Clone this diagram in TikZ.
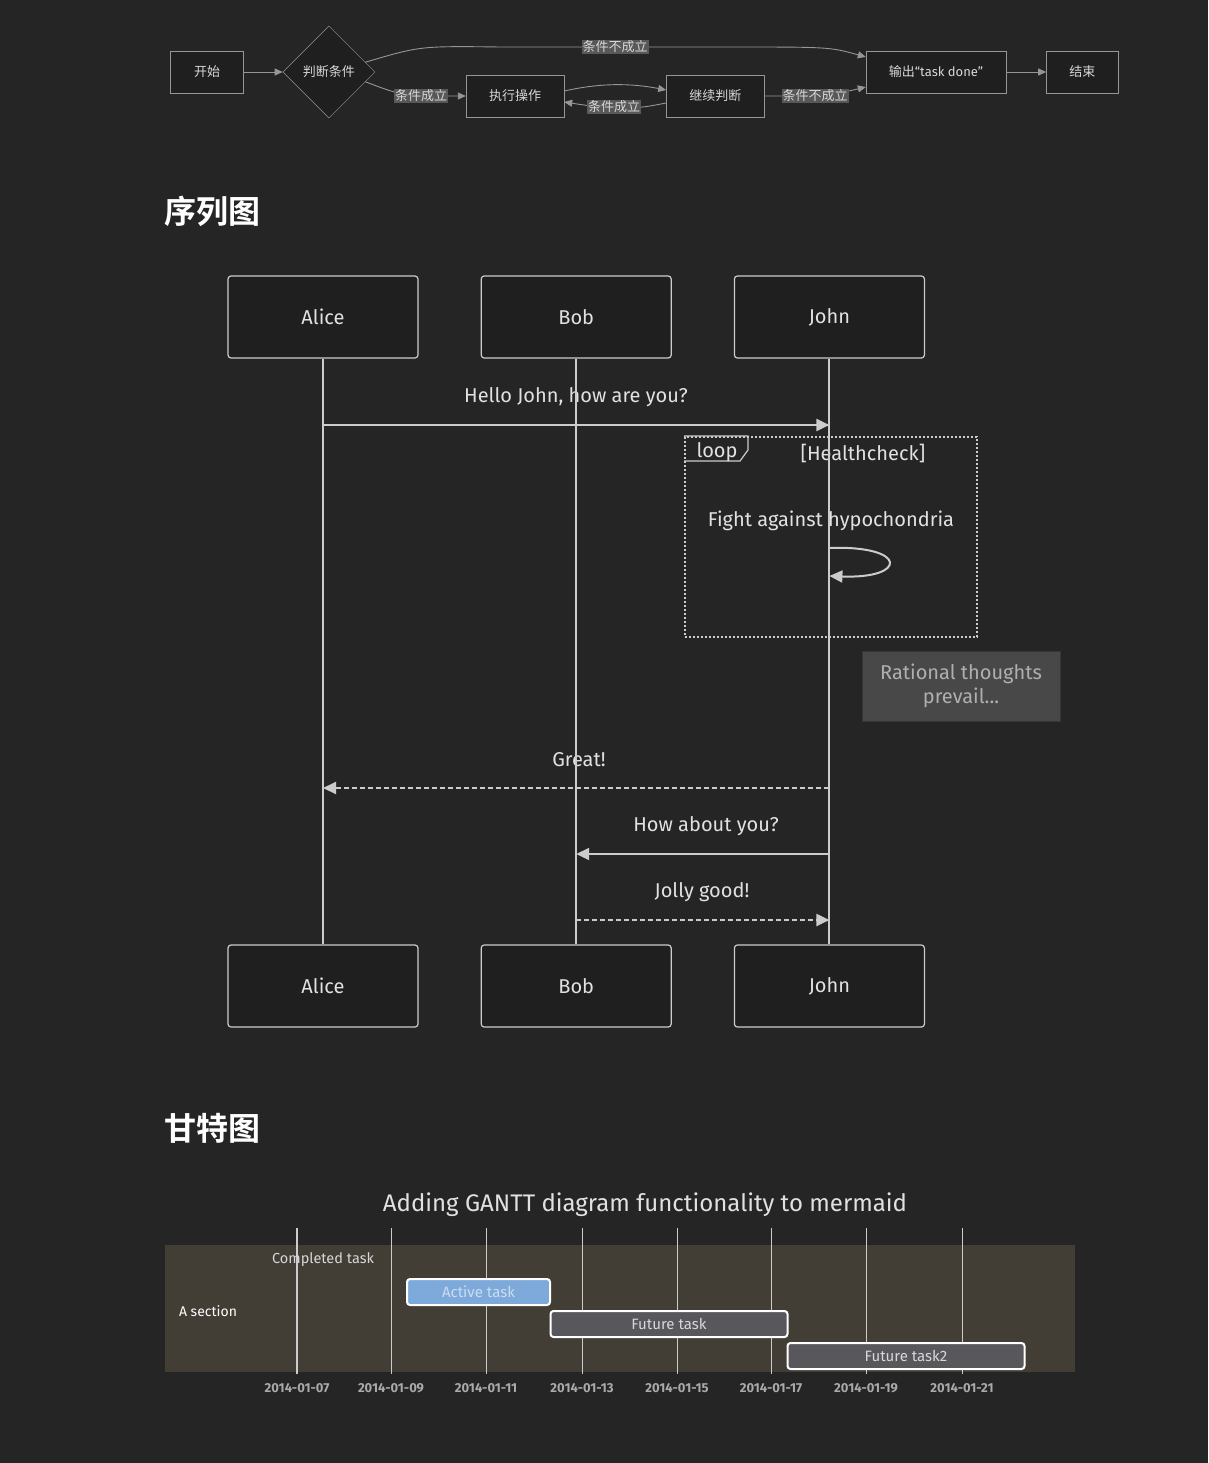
\documentclass[tikz,border=0pt]{standalone}
\usepackage{fontspec}
\setmainfont{Fira Sans}
\newfontfamily\cjk[BoldFont={Noto Sans CJK SC Bold}]{Noto Sans CJK SC}
\usepackage{xcolor}
\usepackage{tikz}
\usetikzlibrary{positioning,arrows.meta,shapes.geometric}
\definecolor{bgdark}{RGB}{37,37,37}
\definecolor{boxfill}{RGB}{31,31,31}
\definecolor{flowline}{RGB}{150,150,150}
\definecolor{flowtext}{RGB}{215,215,215}
\definecolor{labelbg}{RGB}{88,88,88}
\definecolor{seqline}{RGB}{204,204,204}
\definecolor{seqtext}{RGB}{225,225,225}
\definecolor{notefill}{RGB}{72,72,72}
\definecolor{notetext}{RGB}{175,175,175}
\definecolor{bandfill}{RGB}{66,62,54}
\definecolor{activefill}{RGB}{125,170,218}
\definecolor{activetext}{RGB}{205,220,238}
\definecolor{futurefill}{RGB}{88,88,92}
\definecolor{ticktext}{RGB}{170,170,170}
\tikzset{
  flownode/.style  = {shape=rectangle, draw=flowline, fill=boxfill,
                      text=flowtext, minimum height=42pt,
                      font=\cjk\fontsize{13}{15}\selectfont},
  flowcond/.style  = {flownode, shape=diamond, inner sep=0pt,
                      minimum width=92pt, minimum height=92pt},
  flowedge/.style  = {draw=flowline, line width=0.9pt,
                      -{Triangle[length=8pt,width=7pt]}},
  elabel/.style    = {fill=labelbg, text=flowtext, inner sep=1pt,
                      font=\cjk\fontsize{13}{15}\selectfont},
  heading/.style   = {anchor=west, text=white,
                      font=\cjk\bfseries\fontsize{32}{36}\selectfont},
  actor/.style     = {shape=rectangle, rounded corners=3pt, draw=seqline,
                      fill=boxfill, line width=1.2pt, text=seqtext,
                      minimum width=190pt, minimum height=82pt,
                      font=\fontsize{20}{24}\selectfont},
  lifeline/.style  = {draw=seqline, line width=2pt},
  msgtext/.style   = {text=seqtext, font=\fontsize{20}{24}\selectfont},
  msg/.style       = {draw=seqline, line width=2pt,
                      -{Triangle[length=13pt,width=12pt]}},
  reply/.style     = {msg, dash pattern=on 5pt off 3pt},
  loopbox/.style   = {draw=seqline, line width=2pt,
                      dash pattern=on 2pt off 2pt},
  note/.style      = {fill=notefill, draw=notefill!110, text=notetext,
                      align=center, minimum width=198pt, minimum height=70pt,
                      font=\fontsize{20}{24}\selectfont},
  gridline/.style  = {draw=seqline, line width=0.8pt},
  ticklabel/.style = {text=ticktext, font=\bfseries\fontsize{13}{15}\selectfont},
  task/.style      = {shape=rectangle, rounded corners=3pt, draw=white,
                      line width=2pt, minimum height=26pt,
                      font=\fontsize{15}{17}\selectfont},
  activetask/.style= {task, fill=activefill, text=activetext},
  futuretask/.style= {task, fill=futurefill, text=flowtext}
}

\begin{document}
\begin{tikzpicture}
  [
    x = 1pt,
    y = -1pt,
    every node/.style = {inner sep=2pt}
  ]
  \fill[bgdark] (0,0) rectangle (1208,1463);
  \useasboundingbox (0,0) rectangle (1208,1463);

  % flowchart
  \node [flownode, minimum width=73pt] (start) at (207,72) {开始};
  \node [flowcond, right=39pt of start] (cond) {判断条件};
  \node [flownode, minimum width=98pt] (exec) at (515,96) {执行操作};
  \node [flownode, minimum width=98pt, right=102pt of exec] (cont) {继续判断};
  \node [flownode, minimum width=140pt] (out) at (936,72) {输出{\rmfamily“task done”}};
  \node [flownode, minimum width=72pt, right=40pt of out] (stop) {结束};

  \draw [flowedge] (start) -- (cond);
  \draw [flowedge] (cond.15) .. controls (420,46) .. (500,47)
    -- node [elabel] {条件不成立} (730,47)
    .. controls (830,47) .. ([yshift=15pt]out.west);
  \draw [flowedge] (cond.-15) .. controls (395,93) .. (421,96)
    node [elabel] {条件成立} -- (exec.west);
  \draw [flowedge] ([yshift=5pt]exec.east) .. controls (600,83) and (630,83)
    .. ([yshift=6pt]cont.west);
  \draw [flowedge] ([yshift=-7pt]cont.west) .. controls (640,108) .. (614,107)
    node [elabel] {条件成立} .. controls (590,106) .. ([yshift=-6pt]exec.east);
  \draw [flowedge] (cont.east) -- (815,96) node [elabel] {条件不成立}
    .. controls (845,92) .. ([yshift=-15pt]out.west);
  \draw [flowedge] (out) -- (stop);

  % sequence diagram
  \node [heading] (seqhead) at (162,211) {序列图};

  \node [actor] (alice) at (323,317) {Alice};
  \node [actor, right=62pt of alice] (bob) {Bob};
  \node [actor, right=62pt of bob] (john) {John};
  \node [actor] (alice2) at (323,986) {Alice};
  \node [actor, right=62pt of alice2] (bob2) {Bob};
  \node [actor, right=62pt of bob2] (john2) {John};

  \coordinate (m1) at (0,425);
  \coordinate (s1) at (0,548);
  \coordinate (s2) at (0,576);
  \coordinate (m2) at (0,788);
  \coordinate (m3) at (0,854);
  \coordinate (m4) at (0,920);

  \node [loopbox, minimum width=292pt, minimum height=200pt] (loop) at (831,537) {};
  \draw [draw=seqline, line width=1.2pt] (loop.north west) -- ++(64,0) -- ++(0,14)
    -- ++(-8,11) -- ++(-56,0);
  \node [msgtext] (looplabel) at (717,452) {loop};
  \node [msgtext] (loopcond) at (863,453) {[Healthcheck]};
  \node [msgtext] (fight) at (831,521) {Fight against hypochondria};
  \node [note] (thought) at (961,686) {Rational thoughts\\prevail...};

  \node [msgtext] (hello) at (576,397) {Hello John, how are you?};
  \node [msgtext] (great) at (579,760) {Great!};
  \node [msgtext] (howabout) at (706,826) {How about you?};
  \node [msgtext] (jolly) at (702,892) {Jolly good!};

  \draw [lifeline] (alice) -- (alice2);
  \draw [lifeline] (bob) -- (bob2);
  \draw [lifeline] (john) -- (john2);

  \draw [msg] (alice |- m1) -- (john |- m1);
  \draw [msg] (john |- s1) .. controls (908,545) and (908,579) .. (john |- s2);
  \draw [reply] (john |- m2) -- (alice |- m2);
  \draw [msg] (john |- m3) -- (bob |- m3);
  \draw [reply] (bob |- m4) -- (john |- m4);

  % gantt
  \node [heading] (ganttHead) at (162,1128) {甘特图};
  \node [text=seqtext, font=\fontsize{24}{28}\selectfont] (gtitle) at (645,1205)
    {Adding GANTT diagram functionality to mermaid};
  \fill [bandfill] (165,1245) rectangle (1075,1372);
  \foreach \x/\d in {297/07, 391/09, 486/11, 582/13, 677/15, 771/17, 866/19, 962/21}
  {
    \draw [gridline] (\x,1228) -- (\x,1374);
    \node [ticklabel] (tick\d) at (\x,1388) {2014-01-\d};
  }
  \draw [gridline, line width=1.8pt] (297,1228) -- (297,1374);
  \node [text=white, font=\fontsize{14}{16}\selectfont] (section) at (208,1311) {A section};
  \node [text=flowtext, font=\fontsize{14.5}{16}\selectfont] (done) at (323,1260) {Completed task};
  \node [activetask, minimum width=143pt] (active) at (478.5,1292) {Active task};
  \node [futuretask, minimum width=237pt] (future) at (669,1324) {Future task};
  \node [futuretask, minimum width=237pt] (future2) at (906,1356) {Future task2};
\end{tikzpicture}
\end{document}
